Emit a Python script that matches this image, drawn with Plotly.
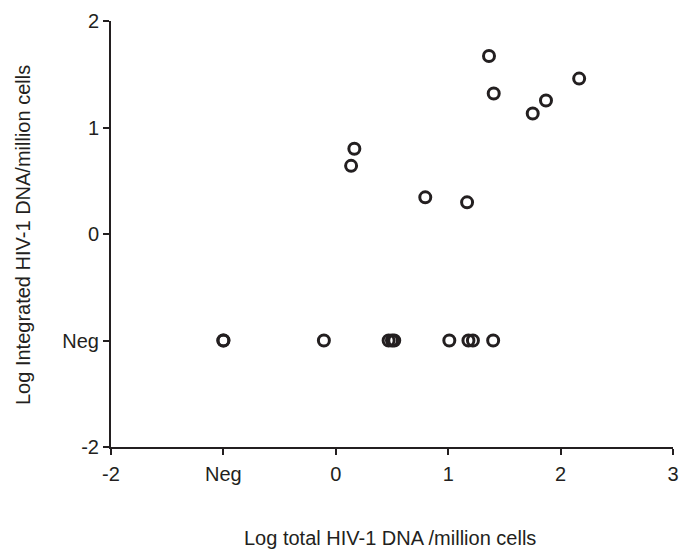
import plotly.graph_objects as go

# Data (Neg plotted at -1 on both axes)
x_vals = [-1.0, -1.0, -0.106, 0.47, 0.50, 0.52, 1.01, 1.18, 1.22, 1.40,
          0.136, 0.165, 0.796, 1.168, 1.363, 1.405, 1.752, 1.870, 2.165]
y_vals = [-1, -1, -1, -1, -1, -1, -1, -1, -1, -1,
          0.64, 0.80, 0.344, 0.297, 1.671, 1.319, 1.131, 1.253, 1.459]

x_tickvals = [-2, -1, 0, 1, 2, 3]
x_ticktext = ["-2", "Neg", "0", "1", "2", "3"]
y_tickvals = [-2, -1, 0, 1, 2]
y_ticktext = ["-2", "Neg", "0", "1", "2"]

ink = "#231f20"
font = dict(family="Liberation Sans, Arial, sans-serif", size=20, color=ink)

L, R, T, B = 111, 6, 21, 103
W, H = 679, 550

fig = go.Figure(go.Scatter(
    x=x_vals, y=y_vals, mode="markers",
    marker=dict(symbol="circle-open", size=11, color=ink, line=dict(width=3, color=ink)),
    showlegend=False, cliponaxis=False,
))

fig.update_layout(
    width=W, height=H,
    margin=dict(l=L, r=R, t=T, b=B),
    paper_bgcolor="white", plot_bgcolor="white",
    font=font,
    xaxis=dict(range=[-2, 3], tickvals=x_tickvals, ticktext=x_ticktext,
               showgrid=False, zeroline=False, showline=True, linecolor=ink, linewidth=2,
               ticks="outside", ticklen=6, tickwidth=2, tickcolor=ink,
               ticklabeloverflow="allow", ticklabelstandoff=2,
               automargin=False, tickfont=font),
    yaxis=dict(range=[-2, 2], tickvals=y_tickvals, ticktext=y_ticktext,
               showgrid=False, zeroline=False, showline=True, linecolor=ink, linewidth=2,
               ticks="outside", ticklen=6, tickwidth=2, tickcolor=ink,
               ticklabeloverflow="allow", ticklabelstandoff=0,
               automargin=False, tickfont=font),
    annotations=[
        dict(text="Log total HIV-1 DNA /million cells", xref="paper", yref="paper",
             x=(390 - L) / (W - L - R), y=-(538 - (H - B)) / (H - B - T),
             xanchor="center", yanchor="middle", showarrow=False, font=font),
        dict(text="Log Integrated HIV-1 DNA/million cells", xref="paper", yref="paper",
             x=-(L - 23) / (W - L - R), y=((H - B) - 235) / (H - B - T),
             xanchor="center", yanchor="middle", textangle=-90, showarrow=False, font=font),
    ],
)

fig.write_html("out.html")
